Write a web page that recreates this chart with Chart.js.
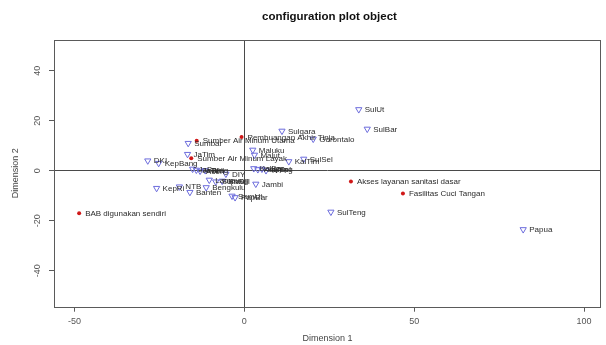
<!DOCTYPE html>
<html>
<head>
<meta charset="utf-8">
<title>configuration plot object</title>
<script src="https://cdn.jsdelivr.net/npm/chart.js@4.4.1/dist/chart.umd.min.js"></script>
<style>
  html, body { margin: 0; padding: 0; background: #ffffff; }
  canvas { display: block; }
</style>
</head>
<body>
<canvas id="plot" width="606" height="345"></canvas>
<script>
// Province coordinates on the two MDS dimensions
const provinces = [
  "SulUt", "SulBar", "Sulgara", "Gorontalo", "Maluku", "Malut", "KalTim", "SulSel",
  "SulTeng", "Papua", "DKI", "KepBang", "Sumbar", "JaTim", "KepRi", "NTB", "Banten",
  "Bengkulu", "Jambi", "DIY", "SumUt", "PapBar", "KalBar", "KalTeng", "KalSel", "NTT",
  "JaBar", "JaTeng", "Aceh", "Bali", "Lampung", "SumSel", "Riau"
];
const provinceDim1 = [
  33.7, 36.2, 11.1, 20.3, 2.5, 3.0, 13.1, 17.5,
  25.5, 82.1, -28.4, -25.2, -16.5, -16.7, -25.8, -19.1, -16.0,
  -11.2, 3.4, -5.4, -3.6, -2.7, 2.8, 4.0, 5.2, 6.4,
  -15.2, -14.1, -13.0, -11.5, -10.3, -8.4, -6.5
];
const provinceDim2 = [
  24.5, 16.7, 15.9, 12.7, 8.3, 6.3, 3.7, 4.7,
  -16.5, -23.5, 4.0, 3.0, 11.0, 6.6, -7.0, -6.4, -8.6,
  -6.7, -5.3, -1.3, -10.1, -10.7, 0.9, 0.5, 0.7, 0.1,
  0.7, 0.3, -0.1, 0.1, -3.7, -4.4, -4.1
];

// Sanitation / water indicators on the same dimensions
const indicators = [
  "BAB digunakan sendiri", "Akses layanan sanitasi dasar", "Fasilitas Cuci Tangan",
  "Sumber Air Minum Utama", "Pembuangan Akhir Tinja", "Sumber Air Minum Layak"
];
const indicatorDim1 = [-48.6, 31.4, 46.7, -14.0, -0.8, -15.6];
const indicatorDim2 = [-17.0, -4.3, -9.1, 12.0, 13.5, 5.0];

// Axis tick values
const dim1Ticks = [-50, 0, 50, 100];
const dim2Ticks = [-40, -20, 0, 20, 40];

const toPoints = (xs, ys) => xs.map((x, i) => ({ x: x, y: ys[i] }));

Chart.defaults.font.family = "'Liberation Sans', Arial, Helvetica, sans-serif";

// Box around the plot region
const frame = {
  id: 'frame',
  afterDraw(chart) {
    const { ctx, chartArea: a } = chart;
    ctx.save();
    ctx.strokeStyle = '#5a5a5a';
    ctx.lineWidth = 1;
    ctx.strokeRect(Math.round(a.left) + 0.5, Math.round(a.top) + 0.5,
                   Math.round(a.right - a.left) - 1, Math.round(a.bottom - a.top));
    ctx.restore();
  }
};

// Main heading centred over the plot region
const heading = {
  id: 'heading',
  afterDraw(chart) {
    const { ctx, chartArea: a } = chart;
    ctx.save();
    ctx.font = "bold 11.5px 'Liberation Sans', Arial, sans-serif";
    ctx.fillStyle = '#111111';
    ctx.textAlign = 'center';
    ctx.textBaseline = 'middle';
    ctx.fillText('configuration plot object', (a.left + a.right) / 2 + 2, 17);
    ctx.restore();
  }
};

// Text labels to the right of every point
const pointLabels = {
  id: 'pointLabels',
  afterDatasetsDraw(chart) {
    const { ctx } = chart;
    ctx.save();
    ctx.font = "8px 'Liberation Sans', Arial, sans-serif";
    ctx.fillStyle = '#2b2b2b';
    ctx.textAlign = 'left';
    ctx.textBaseline = 'middle';
    chart.data.datasets.forEach((ds, di) => {
      const meta = chart.getDatasetMeta(di);
      meta.data.forEach((el, i) => {
        ctx.fillText(ds.pointNames[i], el.x + 6, el.y + 0.5);
      });
    });
    ctx.restore();
  }
};

const axisGrid = {
  drawOnChartArea: true,
  drawTicks: true,
  tickLength: 5,
  tickColor: '#5a5a5a',
  lineWidth: 1,
  color: (c) => (c.tick && c.tick.value === 0) ? '#4a4a4a' : 'rgba(0,0,0,0)'
};

new Chart(document.getElementById('plot'), {
  type: 'scatter',
  data: {
    datasets: [
      {
        label: 'Provinsi',
        data: toPoints(provinceDim1, provinceDim2),
        pointNames: provinces,
        pointStyle: 'triangle',
        rotation: 180,
        pointRadius: 3.6,
        borderWidth: 1,
        borderColor: '#6c6cdc',
        backgroundColor: 'rgba(0,0,0,0)'
      },
      {
        label: 'Indikator',
        data: toPoints(indicatorDim1, indicatorDim2),
        pointNames: indicators,
        pointStyle: 'circle',
        pointRadius: 2,
        borderWidth: 0,
        borderColor: '#d01818',
        backgroundColor: '#d01818'
      }
    ]
  },
  options: {
    responsive: false,
    animation: false,
    events: [],
    devicePixelRatio: 1,
    layout: { padding: { top: 40, right: 2, left: 0, bottom: 0 } },
    plugins: {
      legend: { display: false },
      tooltip: { enabled: false },
      title: { display: false }
    },
    scales: {
      x: {
        type: 'linear',
        min: -56.0,
        max: 105.0,
        afterBuildTicks: (s) => { s.ticks = dim1Ticks.map(v => ({ value: v })); },
        afterFit: (s) => { s.height = 38.3; },
        grid: axisGrid,
        border: { display: false },
        ticks: {
          color: '#555555',
          font: { size: 9 },
          padding: 4,
          maxRotation: 0,
          minRotation: 0
        },
        title: {
          display: true,
          text: 'Dimension 1',
          color: '#444444',
          font: { size: 9 },
          padding: { top: 0, bottom: 1 }
        }
      },
      y: {
        type: 'linear',
        min: -54.4,
        max: 52.3,
        afterBuildTicks: (s) => { s.ticks = dim2Ticks.map(v => ({ value: v })); },
        afterFit: (s) => { s.width = 54; },
        grid: axisGrid,
        border: { display: false },
        ticks: {
          color: '#555555',
          font: { size: 9 },
          padding: 5,
          minRotation: 90,
          maxRotation: 90,
          crossAlign: 'center'
        },
        title: {
          display: true,
          text: 'Dimension 2',
          color: '#444444',
          font: { size: 9 },
          padding: { top: 10, bottom: 0 }
        }
      }
    }
  },
  plugins: [frame, heading, pointLabels]
});
</script>
</body>
</html>
